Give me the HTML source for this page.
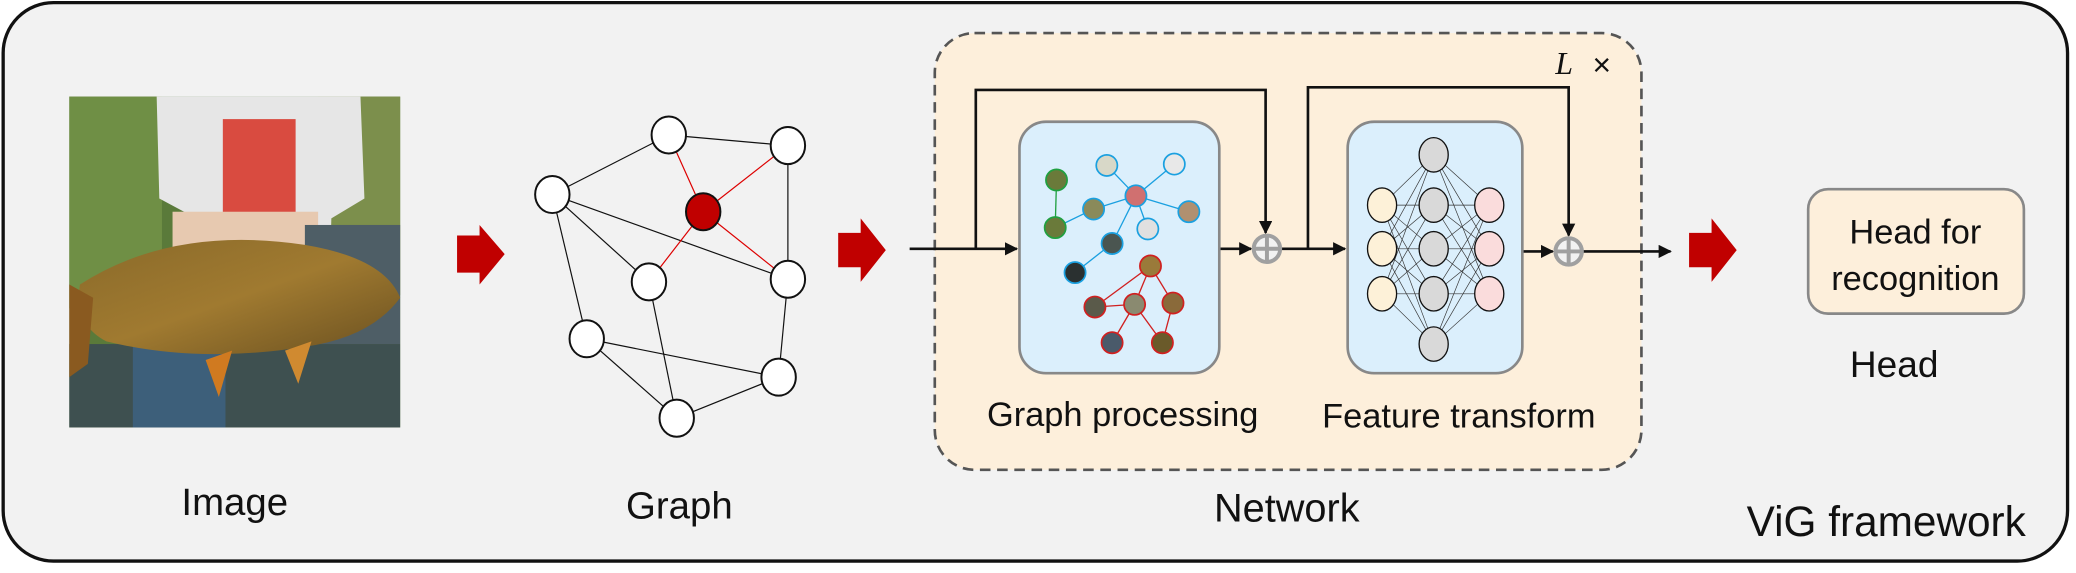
<!DOCTYPE html>
<html><head><meta charset="utf-8"><style>html,body{margin:0;padding:0;background:#fff}svg{display:block}</style></head><body>
<svg width="2076" height="573" viewBox="0 0 1568 433" xmlns="http://www.w3.org/2000/svg" font-family="Liberation Sans, sans-serif">
<defs>
<marker id="ah" viewBox="0 0 10 10" refX="9" refY="5" markerWidth="5" markerHeight="5" orient="auto"><path d="M0,0L10,5L0,10z" fill="#111"/></marker>
<linearGradient id="fish" x1="0" y1="0" x2="1" y2="1"><stop offset="0" stop-color="#8a6a2a"/><stop offset="0.5" stop-color="#a07a30"/><stop offset="1" stop-color="#6a5020"/></linearGradient>
</defs>
<rect x="2" y="2" width="1560" height="422" rx="38" fill="#f2f2f2" stroke="#111" stroke-width="2.5"/>
<!-- photo -->
<g>
<rect x="52" y="73" width="250" height="250" fill="#5a7a3a"/>
<rect x="52" y="73" width="70" height="160" fill="#6f8f45"/>
<rect x="240" y="73" width="62" height="150" fill="#7c8f4c"/>
<path d="M118,73 L272,73 L275,150 L250,165 L248,240 L150,240 L148,165 L120,150z" fill="#e6e6e6"/>
<rect x="168" y="90" width="55" height="80" fill="#d94b40"/>
<rect x="130" y="160" width="110" height="70" fill="#e7c9b0"/>
<rect x="230" y="170" width="72" height="90" fill="#4e5e66"/>
<rect x="52" y="260" width="250" height="63" fill="#3e5050"/>
<rect x="100" y="260" width="70" height="63" fill="#3d5f7a"/>
<path d="M60,215 Q130,170 230,185 Q290,195 302,225 Q280,255 230,262 Q150,275 80,258 Q55,245 60,215z" fill="url(#fish)"/>
<path d="M52,215 L70,225 L66,275 L52,285z" fill="#8a5a20"/>
<path d="M155,272 L175,265 L165,300z" fill="#d07a20"/>
<path d="M215,265 L235,258 L225,290z" fill="#d08a30"/>
</g>
<!-- red arrows -->
<path d="M345,178H362V170L381,192L362,215V206H345z" fill="#c00000"/>
<path d="M633,176H650V165L669,189L650,213V202H633z" fill="#c00000"/>
<path d="M1276,176H1293V165L1312,189L1293,213V202H1276z" fill="#c00000"/>
<!-- graph -->
<g stroke="#111" stroke-width="0.9">
<line x1="505" y1="102" x2="595" y2="110"/><line x1="505" y1="102" x2="417" y2="147"/>
<line x1="595" y1="110" x2="595" y2="211"/><line x1="417" y1="147" x2="490" y2="213"/>
<line x1="417" y1="147" x2="595" y2="211"/><line x1="417" y1="147" x2="443" y2="256"/>
<line x1="490" y1="213" x2="511" y2="316"/><line x1="595" y1="211" x2="588" y2="285"/>
<line x1="443" y1="256" x2="588" y2="285"/><line x1="443" y1="256" x2="511" y2="316"/>
<line x1="511" y1="316" x2="588" y2="285"/>
</g>
<g stroke="#d00" stroke-width="0.9">
<line x1="531" y1="160" x2="505" y2="102"/><line x1="531" y1="160" x2="595" y2="110"/>
<line x1="531" y1="160" x2="490" y2="213"/><line x1="531" y1="160" x2="595" y2="211"/>
</g>
<g fill="#fff" stroke="#111" stroke-width="1.5">
<ellipse cx="505" cy="102" rx="13" ry="14"/><ellipse cx="595" cy="110" rx="13" ry="14"/>
<ellipse cx="417" cy="147" rx="13" ry="14"/><ellipse cx="490" cy="213" rx="13" ry="14"/>
<ellipse cx="595" cy="211" rx="13" ry="14"/><ellipse cx="443" cy="256" rx="13" ry="14"/>
<ellipse cx="588" cy="285" rx="13" ry="14"/><ellipse cx="511" cy="316" rx="13" ry="14"/>
<ellipse cx="531" cy="160" rx="13" ry="14" fill="#c00000"/>
</g>
<!-- network box -->
<rect x="706" y="25" width="534" height="330" rx="30" fill="#fdefdb" stroke="#555" stroke-width="2" stroke-dasharray="8,5"/>
<text x="1175" y="56" font-family="Liberation Serif, serif" font-style="italic" font-size="24" fill="#111">L</text>
<text x="1203" y="57" font-size="24" fill="#111">×</text>
<!-- connectors -->
<g stroke="#111" stroke-width="2" fill="none">
<line x1="687" y1="188" x2="768" y2="188" marker-end="url(#ah)"/>
<polyline points="737,188 737,68 956,68 956,176" marker-end="url(#ah)"/>
<line x1="921" y1="188" x2="945" y2="188" marker-end="url(#ah)"/>
<line x1="967" y1="188" x2="1016" y2="188" marker-end="url(#ah)"/>
<polyline points="988,188 988,66 1185,66 1185,178" marker-end="url(#ah)"/>
<line x1="1150" y1="190" x2="1173" y2="190" marker-end="url(#ah)"/>
<line x1="1195" y1="190" x2="1262" y2="190" marker-end="url(#ah)"/>
</g>
<g stroke="#a0a0a0" stroke-width="3" fill="#f2f2f2">
<circle cx="957" cy="188" r="10"/><line x1="947" y1="188" x2="967" y2="188"/><line x1="957" y1="178" x2="957" y2="198"/>
<circle cx="1185" cy="190" r="10"/><line x1="1175" y1="190" x2="1195" y2="190"/><line x1="1185" y1="180" x2="1185" y2="200"/>
</g>
<!-- graph processing -->
<rect x="770" y="92" width="151" height="190" rx="20" fill="#dbeffc" stroke="#888" stroke-width="2"/>
<g stroke-width="1">
<g stroke="#1aa0e0">
<line x1="858" y1="148" x2="887" y2="124"/><line x1="858" y1="148" x2="836" y2="125"/><line x1="858" y1="148" x2="826" y2="158"/>
<line x1="858" y1="148" x2="898" y2="160"/><line x1="858" y1="148" x2="840" y2="184"/><line x1="826" y1="158" x2="797" y2="172"/>
<line x1="840" y1="184" x2="812" y2="206"/><line x1="858" y1="148" x2="867" y2="173"/>
</g>
<g stroke="#d02020">
<line x1="869" y1="201" x2="827" y2="232"/><line x1="869" y1="201" x2="857" y2="230"/><line x1="869" y1="201" x2="886" y2="229"/>
<line x1="857" y1="230" x2="840" y2="259"/><line x1="886" y1="229" x2="878" y2="259"/><line x1="827" y1="232" x2="857" y2="230"/><line x1="857" y1="230" x2="878" y2="259"/>
</g>
<line x1="798" y1="136" x2="797" y2="172" stroke="#20a040"/>
</g>
<g stroke-width="1.3">
<circle cx="798" cy="136" r="8" fill="#6a7a3a" stroke="#20a040"/><circle cx="797" cy="172" r="8" fill="#6a7a3a" stroke="#20a040"/>
<circle cx="836" cy="125" r="8" fill="#d8d8c8" stroke="#1aa0e0"/><circle cx="887" cy="124" r="8" fill="#e8e8e8" stroke="#1aa0e0"/>
<circle cx="858" cy="148" r="8" fill="#d07070" stroke="#1aa0e0"/><circle cx="826" cy="158" r="8" fill="#8a8a5a" stroke="#1aa0e0"/>
<circle cx="898" cy="160" r="8" fill="#b09070" stroke="#1aa0e0"/><circle cx="867" cy="173" r="8" fill="#e0e0e0" stroke="#1aa0e0"/>
<circle cx="840" cy="184" r="8" fill="#4a5550" stroke="#1aa0e0"/><circle cx="812" cy="206" r="8" fill="#2a3030" stroke="#1aa0e0"/>
<circle cx="869" cy="201" r="8" fill="#9a7a3a" stroke="#d02020"/><circle cx="827" cy="232" r="8" fill="#5a5a4a" stroke="#d02020"/>
<circle cx="857" cy="230" r="8" fill="#8a8a70" stroke="#d02020"/><circle cx="886" cy="229" r="8" fill="#8a6a3a" stroke="#d02020"/>
<circle cx="840" cy="259" r="8" fill="#4a5a6a" stroke="#d02020"/><circle cx="878" cy="259" r="8" fill="#6a5a2a" stroke="#d02020"/>
</g>
<!-- feature transform -->
<rect x="1018" y="92" width="132" height="190" rx="20" fill="#dbeffc" stroke="#888" stroke-width="2"/>
<g stroke="#333" stroke-width="0.5">
<line x1="1044" y1="155" x2="1083" y2="117"/><line x1="1044" y1="155" x2="1083" y2="155"/><line x1="1044" y1="155" x2="1083" y2="188"/><line x1="1044" y1="155" x2="1083" y2="222"/><line x1="1044" y1="155" x2="1083" y2="260"/>
<line x1="1044" y1="188" x2="1083" y2="117"/><line x1="1044" y1="188" x2="1083" y2="155"/><line x1="1044" y1="188" x2="1083" y2="188"/><line x1="1044" y1="188" x2="1083" y2="222"/><line x1="1044" y1="188" x2="1083" y2="260"/>
<line x1="1044" y1="222" x2="1083" y2="117"/><line x1="1044" y1="222" x2="1083" y2="155"/><line x1="1044" y1="222" x2="1083" y2="188"/><line x1="1044" y1="222" x2="1083" y2="222"/><line x1="1044" y1="222" x2="1083" y2="260"/>
<line x1="1125" y1="155" x2="1083" y2="117"/><line x1="1125" y1="155" x2="1083" y2="155"/><line x1="1125" y1="155" x2="1083" y2="188"/><line x1="1125" y1="155" x2="1083" y2="222"/><line x1="1125" y1="155" x2="1083" y2="260"/>
<line x1="1125" y1="188" x2="1083" y2="117"/><line x1="1125" y1="188" x2="1083" y2="155"/><line x1="1125" y1="188" x2="1083" y2="188"/><line x1="1125" y1="188" x2="1083" y2="222"/><line x1="1125" y1="188" x2="1083" y2="260"/>
<line x1="1125" y1="222" x2="1083" y2="117"/><line x1="1125" y1="222" x2="1083" y2="155"/><line x1="1125" y1="222" x2="1083" y2="188"/><line x1="1125" y1="222" x2="1083" y2="222"/><line x1="1125" y1="222" x2="1083" y2="260"/>
</g>
<g stroke="#111" stroke-width="1">
<ellipse cx="1044" cy="155" rx="11" ry="13" fill="#fdf1d8"/><ellipse cx="1044" cy="188" rx="11" ry="13" fill="#fdf1d8"/><ellipse cx="1044" cy="222" rx="11" ry="13" fill="#fdf1d8"/>
<ellipse cx="1083" cy="117" rx="11" ry="13" fill="#d9d9d9"/><ellipse cx="1083" cy="155" rx="11" ry="13" fill="#d9d9d9"/><ellipse cx="1083" cy="188" rx="11" ry="13" fill="#d9d9d9"/><ellipse cx="1083" cy="222" rx="11" ry="13" fill="#d9d9d9"/><ellipse cx="1083" cy="260" rx="11" ry="13" fill="#d9d9d9"/>
<ellipse cx="1125" cy="155" rx="11" ry="13" fill="#fadcdc"/><ellipse cx="1125" cy="188" rx="11" ry="13" fill="#fadcdc"/><ellipse cx="1125" cy="222" rx="11" ry="13" fill="#fadcdc"/>
</g>
<!-- head -->
<rect x="1366" y="143" width="163" height="94" rx="15" fill="#fdefdb" stroke="#888" stroke-width="2"/>
<g fill="#111" text-anchor="middle">
<text x="1447" y="184" font-size="26">Head for</text>
<text x="1447" y="219" font-size="26">recognition</text>
<text x="1431" y="285" font-size="28">Head</text>
<text x="177" y="389" font-size="29">Image</text>
<text x="513" y="392" font-size="29">Graph</text>
<text x="848" y="322" font-size="26">Graph processing</text>
<text x="1102" y="323" font-size="26">Feature transform</text>
<text x="972" y="394" font-size="30">Network</text>
<text x="1425" y="405" font-size="32">ViG framework</text>
</g>
</svg>
</body></html>
